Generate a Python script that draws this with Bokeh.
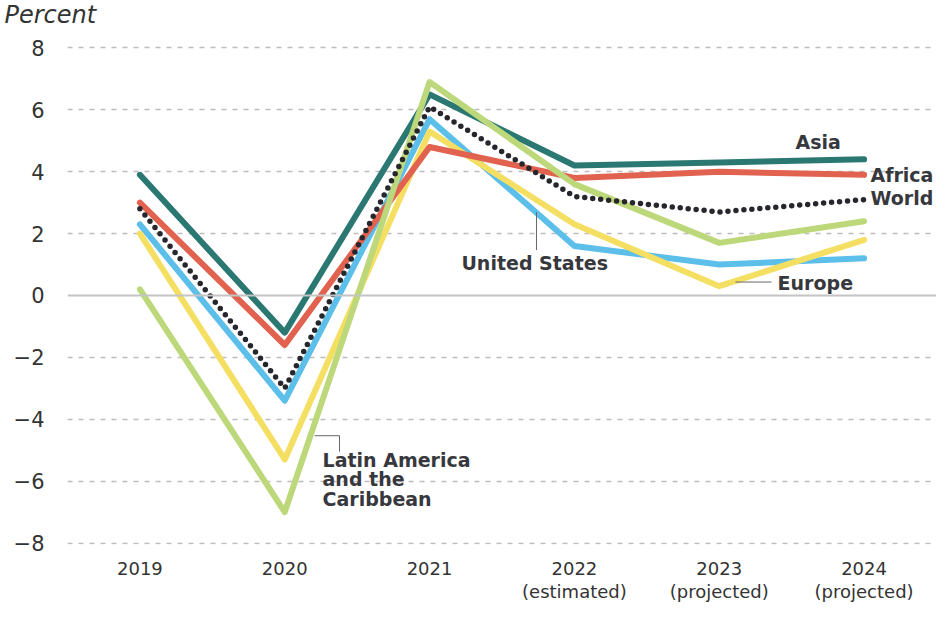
from bokeh.plotting import figure
from bokeh.models import FixedTicker, Span, Label
from bokeh.embed import file_html
from bokeh.resources import INLINE

# ---- data ----
year_pos = [0, 1, 2, 3, 4, 5]
year_labels = ["2019", "2020", "2021", "2022\n(estimated)", "2023\n(projected)", "2024\n(projected)"]
asia = [3.9, -1.2, 6.5, 4.2, 4.3, 4.4]
africa = [3.0, -1.6, 4.8, 3.8, 4.0, 3.9]
world = [2.8, -3.0, 6.1, 3.2, 2.7, 3.1]
united_states = [2.3, -3.4, 5.7, 1.6, 1.0, 1.2]
europe = [2.0, -5.3, 5.3, 2.3, 0.3, 1.8]
latin_america = [0.2, -7.0, 6.9, 3.6, 1.7, 2.4]
y_ticks = [-8, -6, -4, -2, 0, 2, 4, 6, 8]

# annotation (label) positions in data units
label_pos = {
    "Asia": (4.527, 4.95),
    "Africa": (5.044, 3.887),
    "World": (5.044, 3.145),
    "United States": (2.220, 1.048),
    "Europe": (4.403, 0.403),
}
latin_lines = ["Latin America", "and the", "Caribbean"]
latin_pos = (1.261, -5.306)
latin_step = 0.63
callouts_x0 = [2.738, 4.112, 1.206, 1.378]
callouts_y0 = [2.694, 0.435, -4.532, -4.532]
callouts_x1 = [2.738, 4.361, 1.378, 1.378]
callouts_y1 = [1.468, 0.435, -4.532, -5.048]

TEXT = "#37383d"
FONT = "DejaVu Sans"

p = figure(width=936, height=604, output_backend="svg", toolbar_location=None,
           x_range=(-0.5, 5.5), y_range=(-8.048, 8.565),
           min_border_left=67, min_border_right=0, min_border_top=30, min_border_bottom=59)
p.outline_line_color = None

# title used as the "Percent" unit label
p.title.text = "Percent"
p.title.text_font = FONT
p.title.text_font_style = "italic"
p.title.text_font_size = "24px"
p.title.text_color = "#333333"
p.title.align = "left"
p.title.offset = -63
p.title.standoff = 0
p.title.vertical_align = "top"

p.xgrid.grid_line_color = None
p.ygrid.ticker = FixedTicker(ticks=[t for t in y_ticks if t != 0])
p.ygrid.grid_line_color = "#bdbdbd"
p.ygrid.grid_line_width = 1.5
p.ygrid.grid_line_dash = "5 6"

p.add_layout(Span(location=0, dimension="width", line_color="#c4c4c4", line_width=2))

# axes
p.xaxis.ticker = FixedTicker(ticks=year_pos)
p.xaxis.major_label_overrides = {i: s for i, s in zip(year_pos, year_labels)}
p.yaxis.ticker = FixedTicker(ticks=y_ticks)
p.yaxis.major_label_overrides = {t: (str(t) if t >= 0 else "\u2212" + str(-t)) for t in y_ticks}
for ax in (p.xaxis[0], p.yaxis[0]):
    ax.axis_line_color = None
    ax.major_tick_line_color = None
    ax.minor_tick_line_color = None
    ax.major_tick_out = 0
    ax.major_tick_in = 0
    ax.major_label_text_font = FONT
    ax.major_label_text_color = "#333333"
p.xaxis.major_label_text_font_size = "18px"
p.xaxis.major_label_text_line_height = 1.1
p.xaxis.major_label_standoff = 13
p.yaxis.major_label_text_font_size = "21px"
p.yaxis.major_label_standoff = 23

# series
series = [
    (united_states, "#5cbfe9"),
    (europe, "#f4df63"),
    (africa, "#e0624f"),
    (asia, "#2b7872"),
    (latin_america, "#bdd87a"),
]
for vals, col in series:
    p.line(year_pos, vals, line_color=col, line_width=6, line_cap="round", line_join="round")
p.line(year_pos, world, line_color="#26272c", line_width=5.5, line_cap="round",
       line_dash="0 8")

# callout leader lines
p.segment(callouts_x0, callouts_y0, callouts_x1, callouts_y1, line_color="#666666", line_width=1)

# labels
for name, (lx, ly) in label_pos.items():
    p.add_layout(Label(x=lx, y=ly, text=name, text_font=FONT, text_font_style="bold",
                       text_font_size="19px", text_color=TEXT, text_baseline="middle",
                       text_align="left"))
for i, line in enumerate(latin_lines):
    p.add_layout(Label(x=latin_pos[0], y=latin_pos[1] - i * latin_step, text=line,
                       text_font=FONT, text_font_style="bold", text_font_size="19px",
                       text_color=TEXT, text_baseline="middle", text_align="left"))

open("out.html", "w").write(file_html(p, INLINE))
